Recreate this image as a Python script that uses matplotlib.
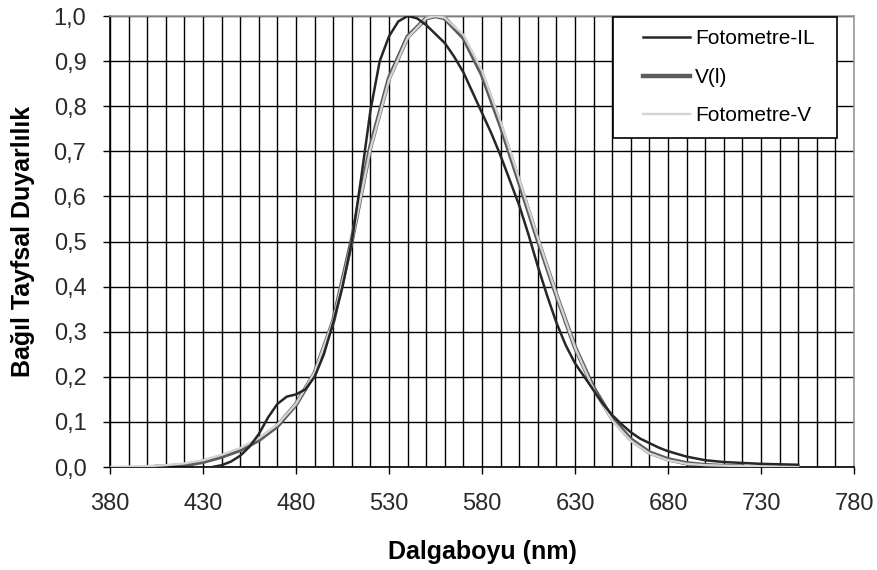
import matplotlib
matplotlib.use("Agg")
import matplotlib.pyplot as plt
from matplotlib.lines import Line2D
from matplotlib.legend_handler import HandlerLine2D
import numpy as np

plt.rcParams.update({
    "font.family": ["Liberation Sans", "DejaVu Sans"],
    "font.size": 17,
})

# Fotometre-IL (measured, shifted peak + bump near 478 nm)
wl_il = [435, 440, 445, 450, 455, 460, 465, 470, 475, 480, 485, 490, 495, 500,
         505, 510, 515, 520, 525, 530, 535, 540, 545, 550, 555, 560, 565, 570,
         575, 580, 585, 590, 595, 600, 605, 610, 615, 620, 625, 630, 635, 640,
         645, 650, 655, 660, 665, 670, 675, 680, 685, 690, 700, 710, 720, 730,
         740, 750]
il = [0.0, 0.004, 0.012, 0.025, 0.045, 0.073, 0.11, 0.14, 0.156, 0.161, 0.172,
      0.2, 0.25, 0.32, 0.40, 0.5, 0.64, 0.79, 0.9, 0.955, 0.988, 1.0, 0.995,
      0.98, 0.96, 0.94, 0.91, 0.875, 0.83, 0.785, 0.74, 0.69, 0.635, 0.58,
      0.515, 0.445, 0.38, 0.32, 0.27, 0.23, 0.2, 0.17, 0.14, 0.115, 0.095,
      0.077, 0.063, 0.053, 0.043, 0.035, 0.029, 0.023, 0.015, 0.011, 0.009,
      0.007, 0.006, 0.005]

# V(l) - standard photopic curve
wl_v = [405, 410, 420, 430, 440, 450, 460, 470, 480, 490, 500, 510, 520, 530,
        540, 550, 555, 560, 570, 580, 590, 600, 610, 620, 630, 640, 650, 660,
        670, 680, 690, 700, 710, 720]
v = [0.0006, 0.0012, 0.004, 0.0116, 0.023, 0.038, 0.06, 0.091, 0.139, 0.208,
     0.323, 0.503, 0.710, 0.862, 0.954, 0.995, 1.0, 0.995, 0.952, 0.870,
     0.757, 0.631, 0.503, 0.381, 0.265, 0.175, 0.107, 0.061, 0.032, 0.017,
     0.0082, 0.0041, 0.0021, 0.001]

# Fotometre-V
wl_fv = [380, 390, 400, 410, 420, 430, 440, 450, 460, 470, 480, 490, 500, 510,
         520, 530, 540, 550, 555, 560, 570, 580, 590, 600, 610, 620, 630, 640,
         650, 660, 670, 680, 690, 700, 720, 740, 750]
fv = [0.0, 0.001, 0.002, 0.004, 0.008, 0.015, 0.027, 0.042, 0.064, 0.094, 0.14,
      0.21, 0.325, 0.5, 0.705, 0.858, 0.952, 0.995, 1.0, 0.996, 0.958, 0.878,
      0.765, 0.638, 0.508, 0.383, 0.265, 0.172, 0.103, 0.058, 0.03, 0.015,
      0.007, 0.004, 0.002, 0.001, 0.0]

x_ticks = [380, 430, 480, 530, 580, 630, 680, 730, 780]
y_ticks = [0.0, 0.1, 0.2, 0.3, 0.4, 0.5, 0.6, 0.7, 0.8, 0.9, 1.0]
y_labels = ["0,0", "0,1", "0,2", "0,3", "0,4", "0,5", "0,6", "0,7", "0,8", "0,9", "1,0"]

fig = plt.figure(figsize=(8.78, 5.70), dpi=100)
ax = fig.add_axes([0.1253, 0.1807, 0.8474, 0.7912])

ax.plot(wl_il, il, color="#262626", lw=1.8, label="Fotometre-IL", zorder=4)
ax.plot(wl_v, v, color="#5c5c5c", lw=3.2, label="V(l)", zorder=2)
ax.plot(wl_fv, fv, color="#d4d4d4", lw=1.7, label="Fotometre-V", zorder=3)

ax.set_xlim(380, 780)
ax.set_ylim(0, 1.0)
ax.set_xticks(x_ticks)
ax.set_xticks(np.arange(380, 781, 10), minor=True)
ax.set_yticks(y_ticks)
ax.set_yticklabels(y_labels)
ax.tick_params(axis="both", which="major", direction="out", length=5,
               width=1, color="black", labelcolor="#2a2a2a", labelsize=17)
ax.tick_params(axis="x", which="major", pad=14)
ax.tick_params(axis="y", which="major", pad=12)
ax.tick_params(axis="x", which="minor", length=0)

ax.set_axisbelow(True)
ax.grid(True, which="both", axis="x", color="black", lw=1.0)
ax.grid(True, which="major", axis="y", color="black", lw=1.0)

for side in ["left", "bottom"]:
    ax.spines[side].set_color("black")
    ax.spines[side].set_linewidth(1.2)
for side in ["top", "right"]:
    ax.spines[side].set_color("#9a9a9a")
    ax.spines[side].set_linewidth(1.2)

ax.set_xlabel("Dalgaboyu (nm)", fontsize=18, fontweight="bold", labelpad=18)
ax.set_ylabel("Bağıl Tayfsal Duyarlılık", fontsize=18, fontweight="bold", labelpad=13)

leg = ax.legend(loc="upper left", bbox_to_anchor=(0.676, 0.698, 0.3007, 0.30),
                mode="expand", fontsize=15, frameon=True, fancybox=False,
                borderpad=0.6, labelspacing=0.93, handlelength=3.1,
                handletextpad=0.25, borderaxespad=0,
                handler_map={Line2D: HandlerLine2D(xpad=0.84)})
leg.get_frame().set_edgecolor("black")
leg.get_frame().set_linewidth(1.2)
leg.get_frame().set_facecolor("white")
leg.get_frame().set_alpha(1)
leg.set_zorder(10)

fig.savefig("out.png", dpi=100, facecolor="white")
